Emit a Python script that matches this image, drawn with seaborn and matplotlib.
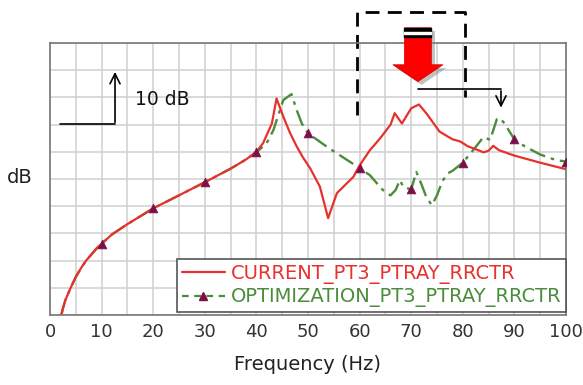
import numpy as np
import pandas as pd
import matplotlib
matplotlib.use("Agg")
import matplotlib.pyplot as plt
import seaborn as sns
from matplotlib.lines import Line2D
from matplotlib.patches import Polygon, Rectangle

# current design response
freq_current = [2.2, 2.5, 3, 4, 5, 6, 7, 8, 9, 10, 12, 15, 20, 25, 30, 35, 38, 40, 41.3, 43, 43.9,
                45.2, 46.5, 47.8, 49, 50.4, 52.3, 53.9, 55.6, 58.8, 60, 62, 64, 66, 66.8, 68.2, 70, 71.5,
                73, 75.5, 78, 79.5, 81, 83, 84, 85, 85.9, 87, 90, 95, 100]
db_current = [0, 1.2, 2.8, 5, 7, 8.6, 10, 11.1, 12.2, 13.1, 14.8, 16.7, 19.6, 22, 24.4, 26.9, 28.6, 30, 31.6, 35.2, 39.8,
              36.5, 33.5, 31, 29, 27, 23.6, 17.8, 22.4, 25.4, 27.5, 30.3, 32.5, 35, 37.1, 35.2, 38, 38.7,
              37, 33.7, 32.3, 31.9, 31, 30.3, 29.9, 30.2, 31.1, 30.3, 29.3, 28, 26.8]

# optimized design response
freq_opt = [2.2, 2.5, 3, 4, 5, 6, 7, 8, 9, 10, 12, 15, 20, 25, 30, 35, 38, 40, 42, 43.3, 45.2, 46.8,
            47.8, 48.8, 50, 54, 60, 62, 64, 65, 66, 67, 67.8, 68.5, 70, 71, 72, 73, 74, 75, 76, 77,
            78, 80, 82, 84, 85.3, 86.6, 87.2, 88, 90, 92, 95, 98, 100]
db_opt = [0, 1.2, 2.8, 5, 7, 8.6, 10, 11.1, 12.2, 13.1, 14.8, 16.7, 19.6, 22, 24.4, 26.9, 28.6, 29.9, 31.6, 34, 39.5, 40.6,
          37.7, 35.2, 33.4, 30.7, 27, 25.7, 23.5, 22.5, 22, 23, 24.8, 23.5, 23.1, 26.3, 24, 21.5, 20.2, 22, 24.5, 26,
          26.5, 28, 30.3, 32.7, 32.2, 36, 36.2, 35.3, 32.3, 31, 29.5, 28.5, 28.2]

x_ticks = [0, 10, 20, 30, 40, 50, 60, 70, 80, 90, 100]
labels = ["CURRENT_PT3_PTRAY_RRCTR", "OPTIMIZATION_PT3_PTRAY_RRCTR"]

red = "#e8302e"
green = "#4a8c3a"
purple = "#7b1048"

sns.set_style("whitegrid")
plt.rcParams["font.family"] = ["DejaVu Sans"]

fig = plt.figure(figsize=(5.83, 3.85), dpi=100)
ax = fig.add_axes([50 / 583, 1 - 315 / 385, 516 / 583, 272 / 385])

sns.lineplot(x=freq_opt, y=db_opt, ax=ax, color=green, lw=1.7, estimator=None, sort=False)
ax.lines[-1].set_dashes((7, 2.5, 1.5, 2.5))
sns.lineplot(x=freq_current, y=db_current, ax=ax, color=red, lw=1.6, estimator=None, sort=False)

df_opt = pd.DataFrame({"f": freq_opt, "db": db_opt})
marks = df_opt[df_opt["f"].isin(x_ticks[1:])]
sns.scatterplot(data=marks, x="f", y="db", ax=ax, marker="^", color=purple, s=40,
                edgecolor=purple, linewidth=0.5, zorder=5)

ax.set_xlim(0, 100)
ax.set_ylim(0, 50)
ax.set_xticks(x_ticks)
ax.set_xticks(np.arange(5, 100, 10), minor=True)
ax.set_yticks(np.arange(0, 51, 5))
ax.set_yticklabels([])
ax.grid(True, which="both", color="#d0d0d0", lw=1.1)
ax.tick_params(axis="x", which="both", length=0, labelsize=13, colors="#333333", pad=6)
ax.tick_params(axis="y", length=0)
for s in ax.spines.values():
    s.set_color("#777777")
    s.set_linewidth(1.2)
ax.set_xlabel("Frequency (Hz)", fontsize=14, color="#222222", labelpad=10)
ax.set_ylabel("")
fig.text(20 / 583, 1 - 178 / 385, "dB", fontsize=14, ha="center", va="center", color="#222222")

# legend
handles = [Line2D([], [], color=red, lw=1.6),
           Line2D([], [], color=green, lw=1.6, dashes=(3, 2.5), marker="^", markersize=6,
                  markerfacecolor=purple, markeredgecolor=purple)]
leg = ax.legend(handles, labels, loc="lower right", bbox_to_anchor=(1.0, 0.01), fontsize=14,
                frameon=True, fancybox=False, framealpha=1, edgecolor="#555555",
                handlelength=2.2, handletextpad=0.3, borderaxespad=0, borderpad=0.25,
                labelspacing=0.2)
leg.get_frame().set_linewidth(1.2)
for txt, c in zip(leg.get_texts(), [red, green]):
    txt.set_color(c)

# 10 dB scale arrow
ax.plot([1.9, 12.6], [35.1, 35.1], color="black", lw=1.2)
ax.annotate("", xy=(12.6, 45.2), xytext=(12.6, 34.9),
            arrowprops=dict(arrowstyle="->", color="black", lw=1.2, mutation_scale=18))
ax.text(16.5, 39.7, "10 dB", fontsize=13.5, va="center", ha="left", color="#111111")

# dashed region box (open at bottom)
box_kw = dict(color="black", lw=2, dashes=(5, 3), clip_on=False)
ax.add_line(Line2D([59.5, 59.5, 80.4, 80.4], [36.8, 55.7, 55.7, 40.1], **box_kw))

# black pointer arrow
ax.plot([71.3, 87.4], [41.5, 41.5], color="black", lw=1.2, clip_on=False)
ax.annotate("", xy=(87.4, 37.6), xytext=(87.4, 41.7),
            arrowprops=dict(arrowstyle="->", color="black", lw=1.2, mutation_scale=18))

# red block arrow with shadow
cx, sw, hw = 71.3, 2.6, 4.85
y_top, y_head, y_tip = 52.8, 46.0, 42.9
arrow_pts = np.array([[cx - sw, y_top], [cx + sw, y_top], [cx + sw, y_head], [cx + hw, y_head],
                      [cx, y_tip], [cx - hw, y_head], [cx - sw, y_head]])
ax.add_patch(Polygon(arrow_pts + [0.7, -0.6], closed=True, color="#888888", alpha=0.5,
                     clip_on=False, zorder=6, lw=0))
ax.add_patch(Polygon(arrow_pts, closed=True, facecolor="#ff0000", edgecolor="#cc0000", lw=0.5,
                     clip_on=False, zorder=7))
ax.add_patch(Rectangle((cx - sw, 51.1), 2 * sw, 1.7, color="black", clip_on=False, zorder=8))
ax.add_patch(Rectangle((cx - sw, 51.7), 2 * sw, 0.3, color="white", clip_on=False, zorder=9))

fig.savefig("out.png", dpi=100)
